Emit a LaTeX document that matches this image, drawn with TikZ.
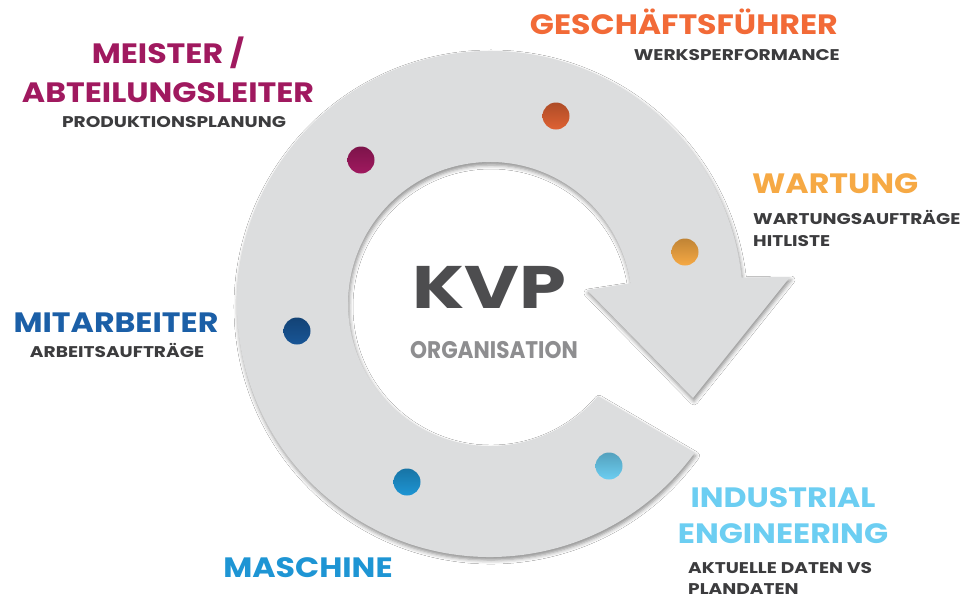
\documentclass[tikz,border=0pt]{standalone}
\usepackage{fontspec}
\newfontfamily\headfont{Poppins}[FakeStretch=1.13]
\newfontfamily\subfont{Poppins}[FakeStretch=1.2]
\newfontfamily\kvpfont{Poppins}[FakeStretch=1.25]
\newfontfamily\orgfont{Poppins}[FakeStretch=0.9]
\usepackage{tikz}
\usetikzlibrary{shadows.blur}

\definecolor{ringgray}{HTML}{DCDDDE}
\definecolor{subgray}{HTML}{3C3C3E}
\definecolor{kvpgray}{HTML}{4D4D4F}
\definecolor{orggray}{HTML}{8E8E90}
\definecolor{cgf}{HTML}{F26A37}
\definecolor{cmeister}{HTML}{A0195F}
\definecolor{cwartung}{HTML}{F6A944}
\definecolor{cmitarb}{HTML}{1B5FA7}
\definecolor{cmaschine}{HTML}{1E95D4}
\definecolor{cie}{HTML}{6CCEF2}

\tikzset{
  ring/.style={fill=ringgray, blur shadow={shadow xshift=1pt, shadow yshift=-3pt,
      shadow blur radius=4pt, shadow opacity=45}},
  dot/.style={circle, minimum size=27pt, inner sep=0pt,
      top color=#1!78!black, bottom color=#1},
  head/.style={font=\headfont\bfseries\fontsize{28}{30}\selectfont, inner sep=0pt},
  sub/.style={font=\subfont\bfseries\fontsize{15.5}{17}\selectfont, text=subgray, inner sep=0pt},
}

\begin{document}
\begin{tikzpicture}[x=1pt, y=-1pt]
        \useasboundingbox[fill=white] (0,0) rectangle (968,598);
        \coordinate (c) at (490,304);
        % the circular arrow
        \path[ring] ([shift={(36:253)}]c) arc[start angle=36, end angle=354, radius=253]
                -- (790,277) -- (693,398) -- (587,290)
                -- ([shift={(351.6:142)}]c) arc[start angle=351.6, end angle=40.5, radius=142]
                -- cycle;
        % dots
        \node (d1) [dot=cmeister] at (361,160) {};
        \node (d2) [dot=cgf!92!black] at (556,116) {};
        \node (d3) [dot=cwartung] at (685,252) {};
        \node (d4) [dot=cmitarb!90!black] at (297,331) {};
        \node (d5) [dot=cmaschine] at (407,482) {};
        \node (d6) [dot=cie] at (609,466) {};
        % centre
        \node (kvp) [anchor=base, font=\kvpfont\bfseries\fontsize{60}{60}\selectfont,
                text=kvpgray, inner sep=0pt] at (489,308) {KVP};
        \node (org) [anchor=base, font=\orgfont\bfseries\fontsize{24}{26}\selectfont,
                text=orggray, inner sep=0pt] at (494,358) {ORGANISATION};
        % roles
        \node (gf) [head, text=cgf, anchor=base east] at (838,34) {GESCHÄFTSFÜHRER};
        \node (gf-sub) [sub, anchor=base east] at (840,60) {WERKSPERFORMANCE};
        \node (ms1) [head, text=cmeister, anchor=base] at (168,63) {MEISTER /};
        \node (ms2) [head, text=cmeister, anchor=base] at (168,102) {ABTEILUNGSLEITER};
        \node (ms-sub) [sub, anchor=base] at (174,127) {PRODUKTIONSPLANUNG};
        \node (wt) [head, text=cwartung, anchor=base west] at (752,193) {WARTUNG};
        \node (wt-sub1) [sub, anchor=base west] at (753,224) {WARTUNGSAUFTRÄGE};
        \node (wt-sub2) [sub, anchor=base west] at (753,246) {HITLISTE};
        \node (ma) [head, text=cmitarb, anchor=base] at (116,332) {MITARBEITER};
        \node (ma-sub) [sub, anchor=base] at (117,357) {ARBEITSAUFTRÄGE};
        \node (ie1) [head, text=cie, anchor=base] at (783,507) {INDUSTRIAL};
        \node (ie2) [head, text=cie, anchor=base] at (783,543) {ENGINEERING};
        \node (ie-sub1) [sub, anchor=base west] at (688,573) {AKTUELLE DATEN VS};
        \node (ie-sub2) [sub, anchor=base west] at (688,594) {PLANDATEN};
        \node (mc) [head, text=cmaschine, anchor=base] at (308,577) {MASCHINE};
\end{tikzpicture}
\end{document}
